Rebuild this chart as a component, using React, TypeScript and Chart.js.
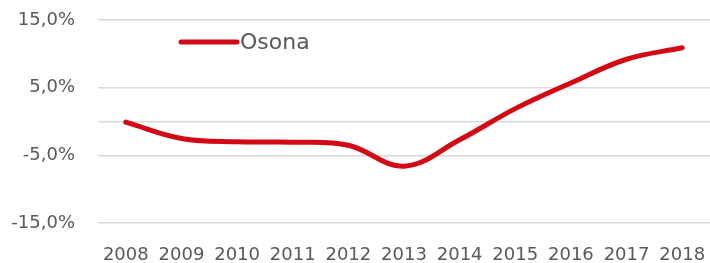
import React, { useEffect, useRef } from "react";
import { Chart, registerables } from "chart.js";

Chart.register(...registerables);

const categories = ["2008", "2009", "2010", "2011", "2012", "2013", "2014", "2015", "2016", "2017", "2018"];
const seriesName = "Osona";
const osonaValues = [-0.1, -2.5, -3.0, -3.05, -3.5, -6.6, -2.7, 1.9, 5.7, 9.2, 10.9];
const yTickValues = [-15, -5, 0, 5, 15];
const yHiddenLabels = [0];

const RED = "#D20A16";
const TEXT = "#595959";
const FONT = "'DejaVu Sans', sans-serif";

const legendPlugin = {
  id: "innerLegend",
  afterDraw(chart: any) {
    const { ctx, chartArea } = chart;
    const ds = chart.data.datasets[0];
    const y = 42;
    const x0 = chartArea.left + 83;
    const x1 = chartArea.left + 139;
    ctx.save();
    ctx.strokeStyle = ds.borderColor;
    ctx.lineWidth = 5;
    ctx.lineCap = "round";
    ctx.beginPath();
    ctx.moveTo(x0, y);
    ctx.lineTo(x1, y);
    ctx.stroke();
    ctx.fillStyle = TEXT;
    ctx.font = `22px ${FONT}`;
    ctx.textBaseline = "middle";
    ctx.textAlign = "left";
    ctx.fillText(ds.label, x1 + 3, y + 1);
    ctx.restore();
  },
};

export default function App() {
  const ref = useRef<HTMLCanvasElement | null>(null);

  useEffect(() => {
    document.body.style.margin = "0";
    if (!ref.current) return;
    const chart = new Chart(ref.current, {
      type: "line",
      data: {
        labels: categories,
        datasets: [
          {
            label: seriesName,
            data: osonaValues,
            borderColor: RED,
            backgroundColor: RED,
            borderWidth: 5,
            pointRadius: 0,
            tension: 0.38,
            borderCapStyle: "round",
            borderJoinStyle: "round",
            fill: false,
          },
        ],
      },
      options: {
        animation: false,
        responsive: true,
        maintainAspectRatio: false,
        layout: { padding: { top: 20, right: 0, left: 0, bottom: 0 } },
        plugins: {
          legend: { display: false },
          tooltip: { enabled: false },
        },
        scales: {
          x: {
            offset: true,
            grid: { display: false, drawTicks: false },
            border: { display: false },
            ticks: {
              color: TEXT,
              font: { family: FONT, size: 18 },
              padding: 22,
              maxRotation: 0,
              autoSkip: false,
            },
            afterFit(scale: any) {
              scale.height = 40;
              scale.paddingLeft = 0;
              scale.paddingRight = 0;
            },
          },
          y: {
            min: -15,
            max: 15,
            afterBuildTicks(scale: any) {
              scale.ticks = yTickValues.map((v) => ({ value: v }));
            },
            grid: {
              color: "#d9d9d9",
              lineWidth: 1.5,
              drawTicks: false,
            },
            border: { display: false },
            ticks: {
              color: TEXT,
              font: { family: FONT, size: 18 },
              padding: 23,
              callback(value: any) {
                const v = Number(value);
                if (yHiddenLabels.includes(v)) return "";
                return v.toFixed(1).replace(".", ",") + "%";
              },
            },
            afterFit(scale: any) {
              scale.width = 98;
              scale.paddingTop = 0;
              scale.paddingBottom = 0;
            },
          },
        },
      },
      plugins: [legendPlugin],
    });
    return () => chart.destroy();
  }, []);

  return (
    <div style={{ width: 710, height: 263, position: "relative" }}>
      <canvas ref={ref} />
    </div>
  );
}
